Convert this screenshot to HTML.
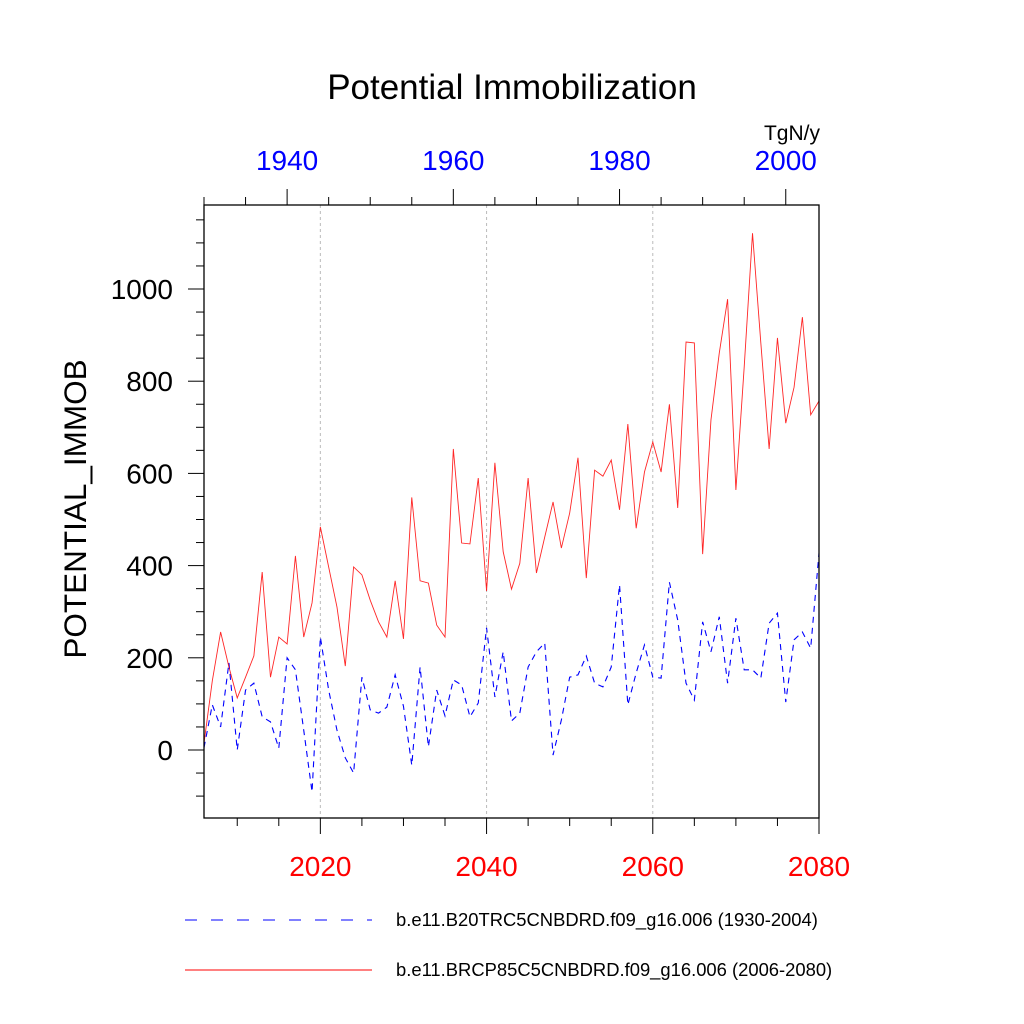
<!DOCTYPE html>
<html><head><meta charset="utf-8"><style>
html,body{margin:0;padding:0;background:#fff;}
svg{display:block;font-family:"Liberation Sans",sans-serif;}
</style></head><body>
<svg id="chart" width="1024" height="1024" viewBox="0 0 1024 1024" xmlns="http://www.w3.org/2000/svg">
<rect width="1024" height="1024" fill="#fff"/>
<text x="512" y="99" font-size="35" text-anchor="middle">Potential Immobilization</text>
<text x="820" y="140" font-size="21" text-anchor="end">TgN/y</text>
<text transform="translate(86,509) rotate(-90)" font-size="31.5" text-anchor="middle">POTENTIAL_IMMOB</text>
<g id="grid"></g>
<g id="series"></g>
<g id="axes"></g>
<g>
<line x1="185" y1="920" x2="372" y2="920" stroke="#0000ff" stroke-width="1" stroke-dasharray="12,14"/>
<text x="396" y="926" font-size="18.4">b.e11.B20TRC5CNBDRD.f09_g16.006 (1930-2004)</text>
<line x1="185" y1="970" x2="372" y2="970" stroke="#ff0000" stroke-width="1"/>
<text x="396" y="976" font-size="18.4">b.e11.BRCP85C5CNBDRD.f09_g16.006 (2006-2080)</text>
</g>
</svg>
<script>
const redYears = Array.from({length:75},(_, i)=>2006+i);
const redValues = [15,150,256,180,113,158,204,386,158,245,230,421,245,319,484,397,310,182,397,380,325,278,245,367,241,548,367,362,271,245,653,449,447,590,345,623,430,349,405,590,384,462,538,438,514,634,373,607,594,629,521,707,481,603,668,603,750,525,885,883,425,716,861,978,564,831,1121,883,653,894,709,787,939,727,757];
const blueYears = Array.from({length:75},(_, i)=>1930+i);
const blueValues = [5,98,50,189,0,130,145,72,61,4,200,174,43,-91,245,130,43,-17,-50,158,87,80,93,163,95,-33,180,7,130,74,152,141,72,102,265,115,213,63,80,180,213,232,-11,65,158,163,204,145,137,180,358,98,167,228,158,156,364,282,145,108,278,213,289,145,286,174,174,156,275,297,104,239,256,221,427];
const yTicks = [0,200,400,600,800,1000];
const topTicks = [1940,1960,1980,2000];
const bottomTicks = [2020,2040,2060,2080];

const NS="http://www.w3.org/2000/svg";
const L=204,R=819,T=205,B=818;
const xB = yr => L + (yr-2006)*(R-L)/74;
const xT = yr => L + (yr-1930)*(R-L)/74;
const y = v => 750 - v*0.461;
function mk(tag, attrs, parent){const e=document.createElementNS(NS,tag);for(const k in attrs)e.setAttribute(k,attrs[k]);parent.appendChild(e);return e;}
const grid=document.getElementById('grid'), series=document.getElementById('series'), axes=document.getElementById('axes');

[2020,2040,2060].forEach(yr=>{
  const g=mk('line',{x1:xB(yr),x2:xB(yr),y1:T,y2:B,stroke:'#bbb','stroke-width':1,'stroke-dasharray':'3,3'},grid);
  
  
});

const bp=mk('polyline',{points:blueYears.map((yr,i)=>xT(yr)+','+y(blueValues[i])).join(' '),fill:'none',stroke:'#0000ff','stroke-width':1.1,'stroke-dasharray':'6,5'},series);


const rp=mk('polyline',{points:redYears.map((yr,i)=>xB(yr)+','+y(redValues[i])).join(' '),fill:'none',stroke:'#ff0000','stroke-width':0.9,'stroke-opacity':0.85},series);



const frame=mk('rect',{x:L,y:T,width:R-L,height:B-T,fill:'none',stroke:'#000','stroke-width':1.3},axes);



for(let v=-100; v<=1150; v+=50){
  const maj = v%200===0;
  const t=mk('line',{x1:L-(maj?16:8),x2:L,y1:y(v),y2:y(v),stroke:'#000','stroke-width':1},axes);
  
  
}
yTicks.forEach(v=>{
  const t=mk('text',{x:173,y:y(v)+10,'font-size':28,'text-anchor':'end'},axes);
  t.textContent=v;
  
  
});
for(let yr=1930; yr<=2004; yr+=5){
  const maj=yr%20===0;
  const t=mk('line',{x1:xT(yr),x2:xT(yr),y1:T-(maj?16:8),y2:T,stroke:'#000','stroke-width':1},axes);
  
  
}
topTicks.forEach(yr=>{
  const t=mk('text',{x:xT(yr),y:170,'font-size':28,'text-anchor':'middle',fill:'#0000ff'},axes);
  t.textContent=yr;
  
  
});
for(let yr=2010; yr<=2080; yr+=5){
  const maj=yr%20===0;
  const t=mk('line',{x1:xB(yr),x2:xB(yr),y1:B,y2:B+(maj?16:8),stroke:'#000','stroke-width':1},axes);
  
  
}
bottomTicks.forEach(yr=>{
  const t=mk('text',{x:xB(yr),y:876,'font-size':28,'text-anchor':'middle',fill:'#ff0000'},axes);
  t.textContent=yr;
  
  
});
</script>
</body></html>
